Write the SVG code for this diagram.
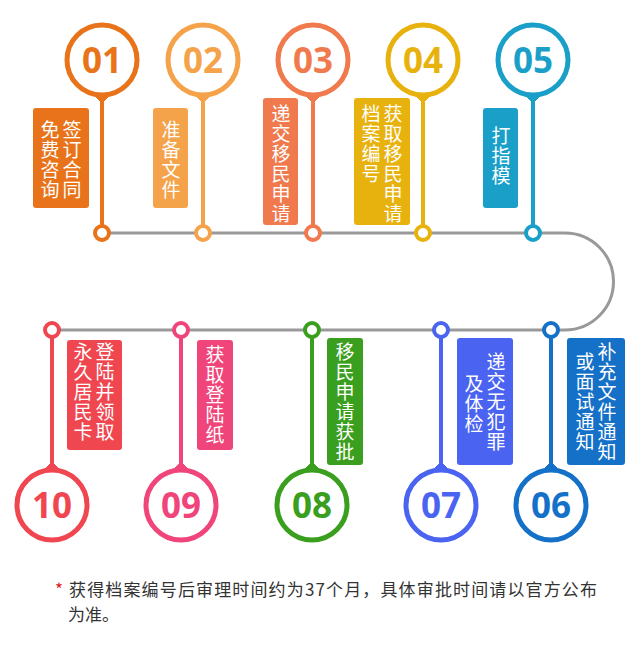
<svg xmlns="http://www.w3.org/2000/svg" width="640" height="650" viewBox="0 0 640 650">
<style>
.num{font-family:"Open Sans","Liberation Sans",sans-serif;font-weight:bold;font-size:35px;text-anchor:middle}
.v{font-family:"Noto Sans CJK SC",sans-serif;font-size:19px;fill:#fff;writing-mode:vertical-rl;letter-spacing:1px}
.ring{fill:#fff;stroke-width:5}
.dot{fill:#fff;stroke-width:4}
.note{font-family:"Noto Sans CJK SC",sans-serif;font-size:17px;fill:#333}
</style>
<rect width="640" height="650" fill="#fff"/>
<g id="connectors">
<path d="M102 233 H565 A48.5 48.5 0 0 1 565 330 H52" fill="none" stroke="#999" stroke-width="3"/>
</g>
<g id="n01" stroke="#E8731A"><line x1="102" y1="95" x2="102" y2="226" stroke-width="4"/><path d="M94 95 L110 95 L102 103Z" fill="#E8731A"/><circle class="ring" cx="102" cy="60" r="35"/><circle class="dot" cx="102" cy="233" r="7"/>
<text class="num" x="102" y="73" fill="#E8731A" stroke="none">01</text>
<rect x="33" y="108" width="56" height="100" rx="3" fill="#E8731A" stroke="none"/>
<text class="v" x="72" y="120" stroke="none">签订合同</text><text class="v" x="50" y="120" stroke="none">免费咨询</text></g>
<g id="n02" stroke="#F5A34B"><line x1="203" y1="95" x2="203" y2="226" stroke-width="4"/><path d="M195 95 L211 95 L203 103Z" fill="#F5A34B"/><circle class="ring" cx="203" cy="60" r="35"/><circle class="dot" cx="203" cy="233" r="7"/>
<text class="num" x="203" y="73" fill="#F5A34B" stroke="none">02</text>
<rect x="153" y="108" width="35" height="100" rx="3" fill="#F5A34B" stroke="none"/>
<text class="v" x="171" y="120" stroke="none">准备文件</text></g>
<g id="n03" stroke="#F07A4D"><line x1="313" y1="95" x2="313" y2="226" stroke-width="4"/><path d="M305 95 L321 95 L313 103Z" fill="#F07A4D"/><circle class="ring" cx="313" cy="60" r="35"/><circle class="dot" cx="313" cy="233" r="7"/>
<text class="num" x="313" y="73" fill="#F07A4D" stroke="none">03</text>
<rect x="263" y="98" width="35" height="127" rx="3" fill="#F07A4D" stroke="none"/>
<text class="v" x="281" y="104" stroke="none">递交移民申请</text></g>
<g id="n04" stroke="#E8B20E"><line x1="423" y1="95" x2="423" y2="226" stroke-width="4"/><path d="M415 95 L431 95 L423 103Z" fill="#E8B20E"/><circle class="ring" cx="423" cy="60" r="35"/><circle class="dot" cx="423" cy="233" r="7"/>
<text class="num" x="423" y="73" fill="#E8B20E" stroke="none">04</text>
<rect x="354" y="98" width="56" height="127" rx="3" fill="#E8B20E" stroke="none"/>
<text class="v" x="393" y="104" stroke="none">获取移民申请</text><text class="v" x="371" y="104" stroke="none">档案编号</text></g>
<g id="n05" stroke="#1AA0C8"><line x1="533" y1="95" x2="533" y2="226" stroke-width="4"/><path d="M525 95 L541 95 L533 103Z" fill="#1AA0C8"/><circle class="ring" cx="533" cy="60" r="35"/><circle class="dot" cx="533" cy="233" r="7"/>
<text class="num" x="533" y="73" fill="#1AA0C8" stroke="none">05</text>
<rect x="483" y="108" width="35" height="100" rx="3" fill="#1AA0C8" stroke="none"/>
<text class="v" x="501" y="126" stroke="none">打指模</text></g>
<g id="n06" stroke="#1570C8"><line x1="551" y1="337" x2="551" y2="470" stroke-width="4"/><path d="M543 470 L559 470 L551 462Z" fill="#1570C8"/><circle class="ring" cx="551" cy="505" r="35"/><circle class="dot" cx="551" cy="330" r="7"/>
<text class="num" x="551" y="518" fill="#1570C8" stroke="none">06</text>
<rect x="567" y="338" width="58" height="127" rx="3" fill="#1570C8" stroke="none"/>
<text class="v" x="607" y="342" stroke="none">补充文件通知</text><text class="v" x="585" y="352" stroke="none">或面试通知</text></g>
<g id="n07" stroke="#4A63F0"><line x1="441" y1="337" x2="441" y2="470" stroke-width="4"/><path d="M433 470 L449 470 L441 462Z" fill="#4A63F0"/><circle class="ring" cx="441" cy="505" r="35"/><circle class="dot" cx="441" cy="330" r="7"/>
<text class="num" x="441" y="518" fill="#4A63F0" stroke="none">07</text>
<rect x="457" y="338" width="56" height="127" rx="3" fill="#4A63F0" stroke="none"/>
<text class="v" x="496" y="352" stroke="none">递交无犯罪</text><text class="v" x="474" y="374" stroke="none">及体检</text></g>
<g id="n08" stroke="#3A9E1E"><line x1="312" y1="337" x2="312" y2="470" stroke-width="4"/><path d="M304 470 L320 470 L312 462Z" fill="#3A9E1E"/><circle class="ring" cx="312" cy="505" r="35"/><circle class="dot" cx="312" cy="330" r="7"/>
<text class="num" x="312" y="518" fill="#3A9E1E" stroke="none">08</text>
<rect x="327" y="338" width="36" height="127" rx="3" fill="#3A9E1E" stroke="none"/>
<text class="v" x="345" y="342" stroke="none">移民申请获批</text></g>
<g id="n09" stroke="#F0457A"><line x1="181" y1="337" x2="181" y2="470" stroke-width="4"/><path d="M173 470 L189 470 L181 462Z" fill="#F0457A"/><circle class="ring" cx="181" cy="505" r="35"/><circle class="dot" cx="181" cy="330" r="7"/>
<text class="num" x="181" y="518" fill="#F0457A" stroke="none">09</text>
<rect x="197" y="340" width="36" height="110" rx="3" fill="#F0457A" stroke="none"/>
<text class="v" x="215" y="345" stroke="none">获取登陆纸</text></g>
<g id="n10" stroke="#F04650"><line x1="52" y1="337" x2="52" y2="470" stroke-width="4"/><path d="M44 470 L60 470 L52 462Z" fill="#F04650"/><circle class="ring" cx="52" cy="505" r="35"/><circle class="dot" cx="52" cy="330" r="7"/>
<text class="num" x="52" y="518" fill="#F04650" stroke="none">10</text>
<rect x="67" y="340" width="55" height="110" rx="3" fill="#F04650" stroke="none"/>
<text class="v" x="105" y="342" stroke="none">登陆并领取</text><text class="v" x="83" y="342" stroke="none">永久居民卡</text></g>
<text class="note" x="55" y="596" textLength="542" lengthAdjust="spacing"><tspan fill="#E02020">*</tspan> 获得档案编号后审理时间约为37个月，具体审批时间请以官方公布</text>
<text class="note" x="68" y="621">为准。</text>
</svg>
